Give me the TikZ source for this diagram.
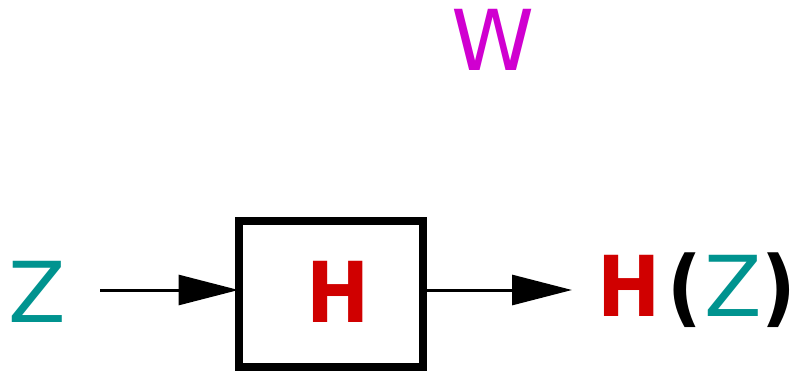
\documentclass[tikz,border=0pt]{standalone}
\usepackage{fontspec}
\setmainfont{DejaVu Sans}
\usetikzlibrary{arrows.meta,positioning}
\definecolor{zteal}{RGB}{0,147,143}
\definecolor{hred}{RGB}{208,0,0}
\definecolor{wmag}{RGB}{208,0,208}
% narrow bold glyphs
\newcommand\bcond[1]{\scalebox{0.9}[1]{\bfseries #1}}
\begin{document}
\begin{tikzpicture}[
  x=1pt, y=-1pt,
  lbl/.style={inner sep=0pt, font=\fontsize{84}{100}\selectfont},
  box/.style={draw, line width=8pt, minimum width=184pt, minimum height=146pt, inner sep=0pt},
  arr/.style={-{Triangle[length=60pt,width=30pt]}, line width=3pt}
]
  \useasboundingbox (0,0) rectangle (796,370);
  \node[lbl, anchor=base, text=wmag] (w) at (493,70) {W};
  \node[lbl, anchor=base, text=zteal] (zin) at (37,322) {Z};
  \node[box] (sys) at (330.5,293.5) {};
  \node[lbl, anchor=base, text=hred] (hsys) at (338,322) {\bcond{H}};
  \node[lbl, anchor=base west] (hz) at (597,316) {\textcolor{hred}{\bcond{H}}\kern7.5pt\bcond{(}\kern1.8pt\textcolor{zteal}{Z}\bcond{)}};
  \coordinate (ain) at (100,290);
  \coordinate (aout) at (572,290);
  \draw[arr, shorten >=-4pt] (ain) -- (ain -| sys.west);
  \draw[arr] (aout -| sys.east) -- (aout);
\end{tikzpicture}
\end{document}
